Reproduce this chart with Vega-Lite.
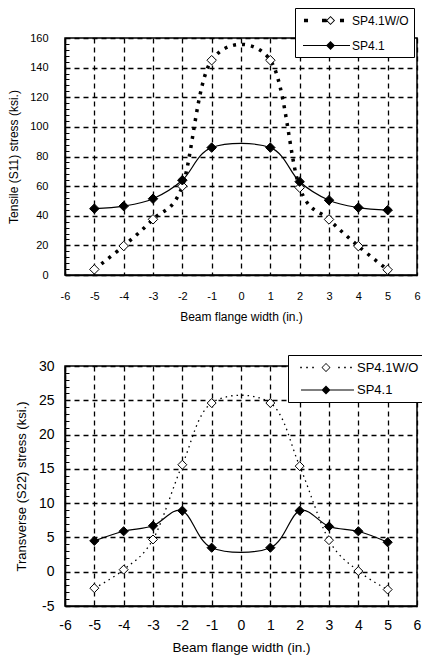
{
  "$schema": "https://vega.github.io/schema/vega-lite/v6.json",
  "background": "white",
  "padding": {"top": 6, "left": 6, "right": 0, "bottom": 0},
  "datasets": {
    "top": [
      {"series": "SP4.1W/O", "x": -5, "y": 3.8},
      {"series": "SP4.1W/O", "x": -4, "y": 19.6},
      {"series": "SP4.1W/O", "x": -3, "y": 37.6},
      {"series": "SP4.1W/O", "x": -2, "y": 60},
      {"series": "SP4.1W/O", "x": -1, "y": 145},
      {"series": "SP4.1W/O", "x": 1, "y": 145},
      {"series": "SP4.1W/O", "x": 2, "y": 59},
      {"series": "SP4.1W/O", "x": 3, "y": 37.5},
      {"series": "SP4.1W/O", "x": 4, "y": 19.5},
      {"series": "SP4.1W/O", "x": 5, "y": 3.5},
      {"series": "SP4.1", "x": -5, "y": 44.8},
      {"series": "SP4.1", "x": -4, "y": 46.5},
      {"series": "SP4.1", "x": -3, "y": 51.5},
      {"series": "SP4.1", "x": -2, "y": 64},
      {"series": "SP4.1", "x": -1, "y": 86},
      {"series": "SP4.1", "x": 1, "y": 86},
      {"series": "SP4.1", "x": 2, "y": 63},
      {"series": "SP4.1", "x": 3, "y": 50.5},
      {"series": "SP4.1", "x": 4, "y": 45.5},
      {"series": "SP4.1", "x": 5, "y": 43.8}
    ],
    "bottom": [
      {"series": "SP4.1W/O", "x": -5, "y": -2.4},
      {"series": "SP4.1W/O", "x": -4, "y": 0.3},
      {"series": "SP4.1W/O", "x": -3, "y": 4.7},
      {"series": "SP4.1W/O", "x": -2, "y": 15.6},
      {"series": "SP4.1W/O", "x": -1, "y": 24.6},
      {"series": "SP4.1W/O", "x": 1, "y": 24.6},
      {"series": "SP4.1W/O", "x": 2, "y": 15.4},
      {"series": "SP4.1W/O", "x": 3, "y": 4.6},
      {"series": "SP4.1W/O", "x": 4, "y": 0.1},
      {"series": "SP4.1W/O", "x": 5, "y": -2.6},
      {"series": "SP4.1", "x": -5, "y": 4.5},
      {"series": "SP4.1", "x": -4, "y": 5.9},
      {"series": "SP4.1", "x": -3, "y": 6.7},
      {"series": "SP4.1", "x": -2, "y": 8.9},
      {"series": "SP4.1", "x": -1, "y": 3.5},
      {"series": "SP4.1", "x": 1, "y": 3.5},
      {"series": "SP4.1", "x": 2, "y": 8.9},
      {"series": "SP4.1", "x": 3, "y": 6.6},
      {"series": "SP4.1", "x": 4, "y": 5.9},
      {"series": "SP4.1", "x": 5, "y": 4.3}
    ]
  },
  "vconcat": [
    {
      "width": 352,
      "height": 237,
      "data": {"name": "top"},
      "encoding": {
        "x": {"field": "x", "type": "quantitative",
          "scale": {"domain": [-6, 6], "nice": false, "zero": false},
          "axis": {"values": [-6,-5,-4,-3,-2,-1,0,1,2,3,4,5,6], "title": "Beam flange width  (in.)",
            "labelExpr": "'' + datum.value", "labelFlush": false,
            "labelFontSize": 11, "labelPadding": 15, "titleFontSize": 12, "titlePadding": 10}},
        "y": {"field": "y", "type": "quantitative",
          "scale": {"domain": [0, 160], "nice": false},
          "axis": {"values": [0,4,8,12,16,20,24,28,32,36,40,44,48,52,56,60,64,68,72,76,80,84,88,92,96,100,104,108,112,116,120,124,128,132,136,140,144,148,152,156,160],
            "labelExpr": "datum.value % 20 === 0 ? datum.label : ''",
            "gridOpacity": {"condition": {"test": "datum.value % 20 === 0", "value": 1}, "value": 0},
            "ticks": true, "tickSize": -4, "tickColor": "black", "tickWidth": 1,
            "title": "Tensile (S11) stress  (ksi.)", "labelFontSize": 11, "labelPadding": 21,
            "titleFontSize": 12, "titlePadding": 9}}
      },
      "layer": [
        {
          "transform": [{"filter": "datum.series === 'SP4.1W/O'"}],
          "mark": {"type": "line", "interpolate": "cardinal", "color": "black", "strokeWidth": 3.5, "strokeDash": [3, 6], "strokeCap": "butt"}
        },
        {
          "transform": [{"filter": "datum.series === 'SP4.1'"}],
          "mark": {"type": "line", "interpolate": "cardinal", "color": "black", "strokeWidth": 1.2}
        },
        {
          "mark": {"type": "point", "filled": true, "color": "black", "opacity": 0, "size": 225},
          "encoding": {
            "shape": {"field": "series", "type": "nominal",
              "scale": {"domain": ["SP4.1W/O", "SP4.1"], "range": [
                "M-0.47,-0.23L0.07,-0.23L0.07,0.23L-0.47,0.23ZM1.93,-0.23L2.55,-0.23L2.55,0.23L1.93,0.23ZM3.07,-0.6L3.67,0L3.07,0.6L2.47,0ZM3.07,-0.43L2.64,0L3.07,0.43L3.5,0ZM4.33,-0.23L4.87,-0.23L4.87,0.23L4.33,0.23Z",
                "M-0.6,-0.08L5.67,-0.08L5.67,0.08L-0.6,0.08ZM3.07,-0.6L3.67,0L3.07,0.6L2.47,0Z"]},
              "legend": {"orient": "none", "legendX": 230, "legendY": -30, "title": null,
                "symbolSize": 225, "symbolStrokeWidth": 0, "symbolOpacity": 1,
                "symbolFillColor": "black", "symbolStrokeColor": "transparent",
                "labelOffset": 37, "rowPadding": 11,
                "labelExpr": "datum.label + '  '",
                "padding": 5, "fillColor": "white", "strokeColor": "black",
                "labelFontSize": 12, "labelColor": "black"}
            }
          }
        },
        {
          "transform": [{"filter": "datum.series === 'SP4.1W/O'"}],
          "mark": {"type": "point", "shape": "diamond", "filled": true, "fill": "white", "stroke": "black", "size": 90, "strokeWidth": 1, "opacity": 1}
        },
        {
          "transform": [{"filter": "datum.series === 'SP4.1'"}],
          "mark": {"type": "point", "shape": "diamond", "filled": true, "fill": "black", "stroke": "black", "size": 90, "strokeWidth": 1, "opacity": 1}
        }
      ]
    },
    {
      "width": 352,
      "height": 240,
      "data": {"name": "bottom"},
      "encoding": {
        "x": {"field": "x", "type": "quantitative",
          "scale": {"domain": [-6, 6], "nice": false, "zero": false},
          "axis": {"values": [-6,-5,-4,-3,-2,-1,0,1,2,3,4,5,6], "title": "Beam flange width (in.)",
            "labelExpr": "'' + datum.value", "labelFlush": false,
            "labelFontSize": 14, "labelPadding": 12.5, "titleFontSize": 13.5, "titlePadding": 8}},
        "y": {"field": "y", "type": "quantitative",
          "scale": {"domain": [-5, 30], "nice": false, "zero": false},
          "axis": {"values": [-5,-4,-3,-2,-1,0,1,2,3,4,5,6,7,8,9,10,11,12,13,14,15,16,17,18,19,20,21,22,23,24,25,26,27,28,29,30],
            "labelExpr": "datum.value % 5 === 0 ? '' + datum.value : ''",
            "gridOpacity": {"condition": {"test": "datum.value % 5 === 0", "value": 1}, "value": 0},
            "ticks": true, "tickSize": -4, "tickColor": "black", "tickWidth": 1,
            "title": "Transverse (S22) stress (ksi.)", "labelFontSize": 14, "labelPadding": 15,
            "titleFontSize": 13, "titlePadding": 10}}
      },
      "layer": [
        {
          "transform": [{"filter": "datum.series === 'SP4.1W/O'"}],
          "mark": {"type": "line", "interpolate": "cardinal", "color": "black", "strokeWidth": 1.3, "strokeDash": [1.5, 4], "strokeCap": "butt"}
        },
        {
          "transform": [{"filter": "datum.series === 'SP4.1'"}],
          "mark": {"type": "line", "interpolate": "cardinal", "color": "black", "strokeWidth": 1.2}
        },
        {
          "mark": {"type": "point", "filled": true, "color": "black", "opacity": 0, "size": 225},
          "encoding": {
            "shape": {"field": "series", "type": "nominal",
              "scale": {"domain": ["SP4.1W/O", "SP4.1"], "range": [
                "M-0.04,-0.11L0.18,-0.11L0.18,0.11L-0.04,0.11ZM0.76,-0.11L0.98,-0.11L0.98,0.11L0.76,0.11ZM1.56,-0.11L1.78,-0.11L1.78,0.11L1.56,0.11ZM3.4,-0.6L4,0L3.4,0.6L2.8,0ZM3.4,-0.47L2.93,0L3.4,0.47L3.87,0ZM5.02,-0.11L5.24,-0.11L5.24,0.11L5.02,0.11ZM5.82,-0.11L6.04,-0.11L6.04,0.11L5.82,0.11ZM6.62,-0.11L6.84,-0.11L6.84,0.11L6.62,0.11Z",
                "M0.07,-0.08L7.13,-0.08L7.13,0.08L0.07,0.08ZM3.4,-0.6L4,0L3.4,0.6L2.8,0Z"]},
              "legend": {"orient": "none", "legendX": 223, "legendY": -11, "title": null,
                "symbolSize": 225, "symbolStrokeWidth": 0, "symbolOpacity": 1,
                "symbolFillColor": "black", "symbolStrokeColor": "transparent",
                "labelOffset": 49, "rowPadding": 7.5,
                "labelExpr": "datum.label + ' '",
                "padding": 5, "fillColor": "white", "strokeColor": "black",
                "labelFontSize": 13, "labelColor": "black"}
            }
          }
        },
        {
          "transform": [{"filter": "datum.series === 'SP4.1W/O'"}],
          "mark": {"type": "point", "shape": "diamond", "filled": true, "fill": "white", "stroke": "black", "size": 80, "strokeWidth": 1, "opacity": 1}
        },
        {
          "transform": [{"filter": "datum.series === 'SP4.1'"}],
          "mark": {"type": "point", "shape": "diamond", "filled": true, "fill": "black", "stroke": "black", "size": 85, "strokeWidth": 1, "opacity": 1}
        }
      ]
    }
  ],
  "spacing": 91,
  "bounds": "flush",
  "resolve": {"scale": {"shape": "independent", "x": "independent", "y": "independent"}, "legend": {"shape": "independent"}},
  "config": {
    "font": "Liberation Sans",
    "view": {"stroke": "black", "strokeWidth": 1.5},
    "axis": {
      "domainColor": "black", "domainWidth": 1.5,
      "gridColor": "black", "gridDash": [5, 4], "gridWidth": 1.3,
      "labelColor": "black", "titleColor": "black", "titleFontWeight": "normal",
      "labelFont": "Liberation Sans", "titleFont": "Liberation Sans"
    },
    "axisX": {"ticks": false},
    "legend": {"labelFont": "Liberation Sans"}
  }
}
